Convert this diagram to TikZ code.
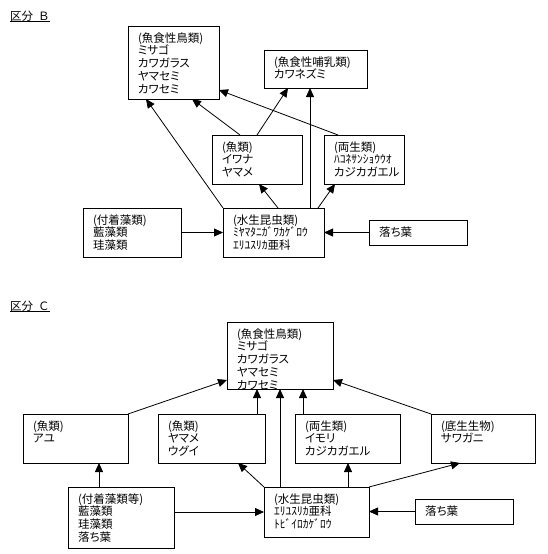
\documentclass[tikz,border=0pt]{standalone}
\usepackage{fontspec}
\setmainfont{Noto Sans CJK JP}[RawFeature=+palt]
\newfontfamily\titlefont{Noto Sans CJK JP}
\usetikzlibrary{arrows.meta}
\newcommand\boxfmt{\fontsize{11.5pt}{12.75pt}\selectfont\lineskiplimit=-20pt\raggedright\leftskip=10pt\relax\rule{0pt}{16pt}}
\newcommand\mkbox[6]{%
  \node[bx, anchor=north west] (#1) at (#2,#3)
  {\parbox[c][\dimexpr #5pt-#3pt\relax][t]{\dimexpr #4pt-#2pt\relax}{\boxfmt #6}};}
\newcommand\ulx[1]{\setbox0\hbox{#1}\rlap{\rule[-2pt]{\wd0}{0.9pt}}\box0}
\tikzset{
  bx/.style={draw, line width=1pt, inner sep=0pt, outer sep=0pt},
  arr/.style={draw, line width=0.8pt, -{Triangle[length=9pt,width=8pt]}},
  ttl/.style={anchor=base west, inner sep=0pt, font=\titlefont\fontsize{11.5pt}{14pt}\selectfont}
}
\begin{document}
\begin{tikzpicture}[x=1pt,y=-1pt]
\useasboundingbox (0,0) rectangle (548,554);
\fill[white] (0,0) rectangle (548,554);
% ---------- 区分B ----------
\node[ttl] (tB) at (10,20) {\ulx{区分\hspace{5pt}Ｂ}};
\mkbox{bB}{128}{26}{219}{99}{(魚食性鳥類)\\ミサゴ\\カワガラス\\ヤマセミ\\カワセミ}
\mkbox{mB}{264}{50}{367}{88}{(魚食性哺乳類)\\カワネズミ}
\mkbox{fB}{212}{135}{302}{184}{(魚類)\\イワナ\\ヤマメ}
\mkbox{aB}{324}{135}{404}{184}{(両生類)\\ﾊｺﾈｻﾝｼｮｳｳｵ\\カジカガエル}
\mkbox{iB}{223}{208}{324}{257}{(水生昆虫類)\\ﾐﾔﾏﾀﾆｶﾞﾜｶｹﾞﾛｳ\\ｴﾘﾕｽﾘｶ亜科}
\mkbox{lB}{369}{220}{467}{245}{落ち葉}
\mkbox{gB}{83}{208}{181}{257}{(付着藻類)\\藍藻類\\珪藻類}
\draw[arr] (gB.east) -- (iB.west);
\draw[arr] (lB.west) -- (lB.west -| iB.east);
\draw[arr] ([xshift=55pt]iB.north west) -- ([xshift=47pt]fB.south west);
\draw[arr] ([xshift=95pt]iB.north west) -- ([xshift=11pt]aB.south west);
\draw[arr] (iB.north west) -- ([xshift=18pt]bB.south west);
\draw[arr] ([xshift=87pt]iB.north west) -- ([xshift=87pt]iB.north west |- mB.south);
\draw[arr] ([xshift=28pt]fB.north west) -- ([xshift=64pt]bB.south west);
\draw[arr] ([xshift=45pt]fB.north west) -- ([xshift=24pt]mB.south west);
\draw[arr] ([xshift=14pt]aB.north west) -- ([yshift=9pt]bB.south east);
% ---------- 区分C ----------
\node[ttl] (tC) at (10,310) {\ulx{区分\hspace{5pt}Ｃ}};
\mkbox{bC}{227}{322}{333}{389}{(魚食性鳥類)\\ミサゴ\\カワガラス\\ヤマセミ\\カワセミ}
\mkbox{fa}{23}{414}{128}{463}{(魚類)\\アユ}
\mkbox{fy}{158}{414}{265}{463}{(魚類)\\ヤマメ\\ウグイ}
\mkbox{aC}{295}{414}{400}{463}{(両生類)\\イモリ\\カジカガエル}
\mkbox{sC}{431}{414}{535}{463}{(底生生物)\\サワガニ}
\mkbox{gC}{68}{487}{174}{548}{(付着藻類等)\\藍藻類\\珪藻類\\落ち葉}
\mkbox{iC}{264}{487}{369}{537}{(水生昆虫類)\\ｴﾘﾕｽﾘｶ亜科\\ﾄﾋﾞｲﾛｶｹﾞﾛｳ}
\mkbox{lC}{415}{499}{513}{524}{落ち葉}
\draw[arr] (fa.north east) -- ([yshift=9pt]bC.south west);
\draw[arr] ([xshift=31pt]gC.north west) -- ([xshift=31pt]gC.north west |- fa.south);
\draw[arr] ([yshift=-25pt]gC.north east) -- ([yshift=-25pt]gC.north east -| iC.west);
\draw[arr] (iC.north west) -- ([xshift=80pt]fy.south west);
\draw[arr] ([xshift=99pt]fy.north west) -- ([xshift=99pt]fy.north west |- bC.south);
\draw[arr] ([xshift=16pt]iC.north west) -- ([xshift=16pt]iC.north west |- bC.south);
\draw[arr] ([xshift=8pt]aC.north west) -- ([xshift=8pt]aC.north west |- bC.south);
\draw[arr] ([xshift=84pt]iC.north west) -- ([xshift=84pt]iC.north west |- aC.south);
\draw[arr] (iC.north east) -- ([xshift=29pt]sC.south west);
\draw[arr] (sC.north west) -- ([yshift=9pt]bC.south east);
\draw[arr] (lC.west) -- (lC.west -| iC.east);
\end{tikzpicture}
\end{document}
